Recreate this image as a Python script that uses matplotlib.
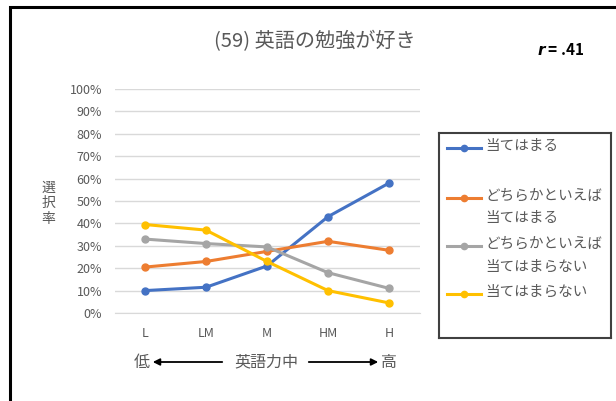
import matplotlib
matplotlib.use("Agg")
import matplotlib.pyplot as plt
from matplotlib.patches import Rectangle
from matplotlib.lines import Line2D

plt.rcParams['font.family'] = ['Noto Sans CJK JP', 'DejaVu Sans']

categories = ['L', 'LM', 'M', 'HM', 'H']
labels = ['当てはまる', 'どちらかといえば\n当てはまる', 'どちらかといえば\n当てはまらない', '当てはまらない']
colors = ['#4472C4', '#ED7D31', '#A5A5A5', '#FFC000']
atehamaru = [0.10, 0.115, 0.21, 0.43, 0.58]
dochira_ateru = [0.205, 0.23, 0.275, 0.32, 0.28]
dochira_atenai = [0.33, 0.31, 0.295, 0.18, 0.11]
atehamaranai = [0.395, 0.37, 0.23, 0.10, 0.045]
series = [atehamaru, dochira_ateru, dochira_atenai, atehamaranai]

W, H = 616, 401
fig = plt.figure(figsize=(W / 100, H / 100), dpi=100)

def box(l, t, r, b):
    return [l / W, 1 - b / H, (r - l) / W, (b - t) / H]

grey = '#595959'

# outer frame
fig.add_artist(Rectangle((10 / W, -0.1), 1.2, 1 - 7 / H + 0.1, transform=fig.transFigure,
                         fill=False, edgecolor='black', linewidth=2.2))

ax = fig.add_axes(box(114.5, 89, 419.5, 313))
x = range(len(categories))
for vals, c in zip(series, colors):
    ax.plot(x, vals, color=c, linewidth=2.2, marker='o', markersize=5)
ax.set_xlim(-0.5, 4.5)
ax.set_ylim(0, 1)
ax.set_yticks([i / 10 for i in range(11)])
ax.set_yticklabels([f'{i * 10}%' for i in range(11)])
ax.set_xticks(list(x))
ax.set_xticklabels(categories)
ax.grid(axis='y', color='#D9D9D9', linewidth=1)
ax.set_axisbelow(True)
for s in ['top', 'right', 'left']:
    ax.spines[s].set_visible(False)
ax.spines['bottom'].set_color('#D9D9D9')
ax.tick_params(length=0, labelsize=9, labelcolor=grey)
ax.tick_params(axis='y', pad=9)
ax.tick_params(axis='x', pad=10)

fig.text(315 / W, 1 - 42 / H, '(59) 英語の勉強が好き', ha='center', va='center', fontsize=14.5, color=grey)
fig.text(561 / W, 1 - 50 / H, '$\\mathbfit{r}$ = .41', ha='center', va='center', fontsize=11,
         color='black', fontweight='bold')
fig.text(48 / W, 1 - 203 / H, '選\n択\n率', ha='center', va='center', fontsize=10, color=grey, linespacing=1.15)

# axis caption with arrows
yc = 1 - 362 / H
fig.text(142 / W, yc, '低', ha='center', va='center', fontsize=11.5, color=grey)
fig.text(389 / W, yc, '高', ha='center', va='center', fontsize=11.5, color=grey)
fig.text(266 / W, yc, '英語力中', ha='center', va='center', fontsize=11.5, color=grey)
fig.add_artist(plt.Annotation('', xy=(150 / W, yc), xytext=(225 / W, yc), xycoords='figure fraction',
                              arrowprops=dict(arrowstyle='-|>', color='black', lw=1.3, mutation_scale=10)))
fig.add_artist(plt.Annotation('', xy=(381 / W, yc), xytext=(306 / W, yc), xycoords='figure fraction',
                              arrowprops=dict(arrowstyle='-|>', color='black', lw=1.3, mutation_scale=10)))

# legend drawn like the Excel one
lg = fig.add_axes(box(439, 133, 611, 338))
lg.set_xlim(439, 611)
lg.set_ylim(338, 133)
lg.set_xticks([])
lg.set_yticks([])
for s in lg.spines.values():
    s.set_color('#404040')
    s.set_linewidth(1.5)
rows = [148, 198, 246, 294]
for yy, lab, c in zip(rows, labels, colors):
    lg.add_line(Line2D([447, 481], [yy, yy], color=c, linewidth=2.2))
    lg.plot([464], [yy], marker='o', color=c, markersize=4.5)
    lg.text(485, yy - 9, lab, ha='left', va='top', fontsize=10.5, color=grey, linespacing=1.75)

fig.savefig('out.png', dpi=100)
